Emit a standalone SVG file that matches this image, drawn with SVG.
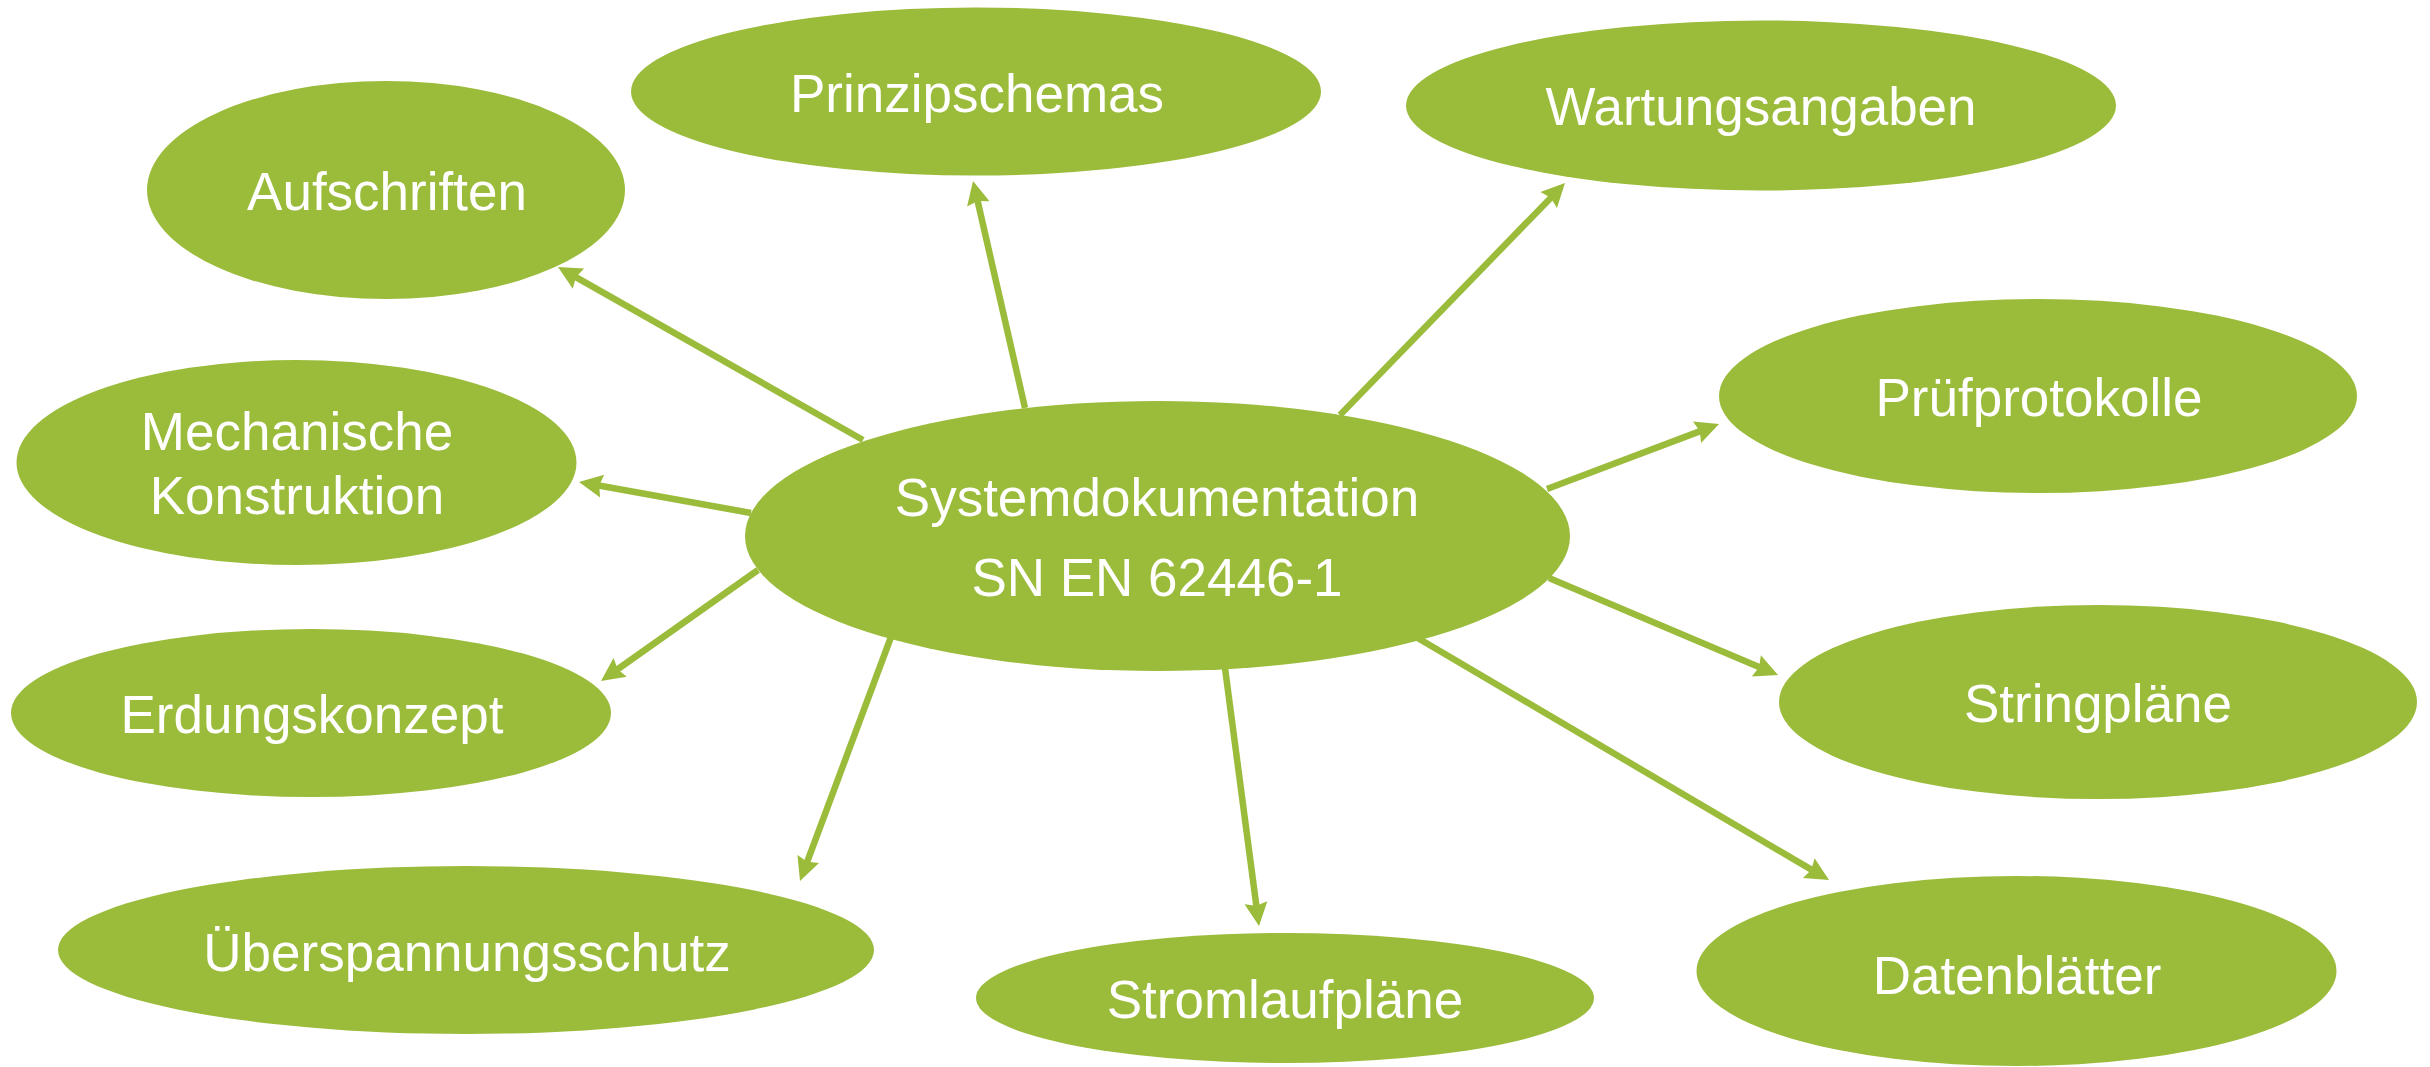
<svg xmlns="http://www.w3.org/2000/svg" width="2430" height="1067" viewBox="0 0 2430 1067">
<style>
.n{fill:#9BBB3B}
.t{fill:#FFFFFF;font-family:"Liberation Sans",Arial,sans-serif;font-size:53px;text-anchor:middle}
.c{stroke:#9BBB3B;stroke-width:6.5;fill:none;marker-end:url(#ah)}
</style>
<defs>
<marker id="ah" markerUnits="userSpaceOnUse" markerWidth="30" markerHeight="30" refX="0" refY="0" viewBox="-6 -15 30 30" orient="auto">
<path d="M-3.5,-11.5 L20,0 L-3.5,11.5 L-0.5,0 Z" fill="#9BBB3B"/>
</marker>
</defs>
<rect width="2430" height="1067" fill="#FFFFFF"/>
<g id="connectors">
<line class="c" x1="863" y1="440" x2="575.4" y2="276.9"/>
<line class="c" x1="1025" y1="408" x2="977.5" y2="200.5"/>
<line class="c" x1="1340" y1="415" x2="1551.1" y2="197.4"/>
<line class="c" x1="1547" y1="489" x2="1700.3" y2="431.1"/>
<line class="c" x1="751" y1="513" x2="598.7" y2="485.5"/>
<line class="c" x1="758" y1="570" x2="617.3" y2="669.5"/>
<line class="c" x1="891" y1="637" x2="807" y2="862.3"/>
<line class="c" x1="1225" y1="668" x2="1256.4" y2="906.2"/>
<line class="c" x1="1549" y1="578" x2="1759.6" y2="667.2"/>
<line class="c" x1="1416" y1="637" x2="1811.8" y2="869.9"/>
</g>
<g id="systemdokumentation">
<ellipse class="n" cx="1157.5" cy="536" rx="412.5" ry="135"/>
<text class="t" x="1157" y="516">Systemdokumentation</text>
<text class="t" x="1157" y="596">SN EN 62446-1</text>
</g>
<g id="aufschriften">
<ellipse class="n" cx="386" cy="190" rx="239" ry="109"/>
<text class="t" x="387" y="210">Aufschriften</text>
</g>
<g id="prinzipschemas">
<ellipse class="n" cx="976" cy="91.5" rx="345" ry="84"/>
<text class="t" x="977" y="112">Prinzipschemas</text>
</g>
<g id="wartungsangaben">
<ellipse class="n" cx="1761" cy="105.5" rx="355" ry="85"/>
<text class="t" x="1761" y="125">Wartungsangaben</text>
</g>
<g id="pruefprotokolle">
<ellipse class="n" cx="2038" cy="396" rx="319" ry="97"/>
<text class="t" x="2039" y="416">Prüfprotokolle</text>
</g>
<g id="mechanische-konstruktion">
<ellipse class="n" cx="296.5" cy="462.5" rx="280" ry="102.5"/>
<text class="t" x="297" y="450">Mechanische</text>
<text class="t" x="297" y="514">Konstruktion</text>
</g>
<g id="erdungskonzept">
<ellipse class="n" cx="311" cy="713" rx="300" ry="84"/>
<text class="t" x="312" y="733">Erdungskonzept</text>
</g>
<g id="ueberspannungsschutz">
<ellipse class="n" cx="466" cy="950" rx="408" ry="84"/>
<text class="t" x="467" y="971">Überspannungsschutz</text>
</g>
<g id="stromlaufplaene">
<ellipse class="n" cx="1285" cy="998" rx="309" ry="65"/>
<text class="t" x="1285" y="1018">Stromlaufpläne</text>
</g>
<g id="stringplaene">
<ellipse class="n" cx="2098" cy="702" rx="319" ry="97"/>
<text class="t" x="2098" y="722">Stringpläne</text>
</g>
<g id="datenblaetter">
<ellipse class="n" cx="2016.5" cy="971" rx="320" ry="95"/>
<text class="t" x="2017" y="994">Datenblätter</text>
</g>
</svg>
